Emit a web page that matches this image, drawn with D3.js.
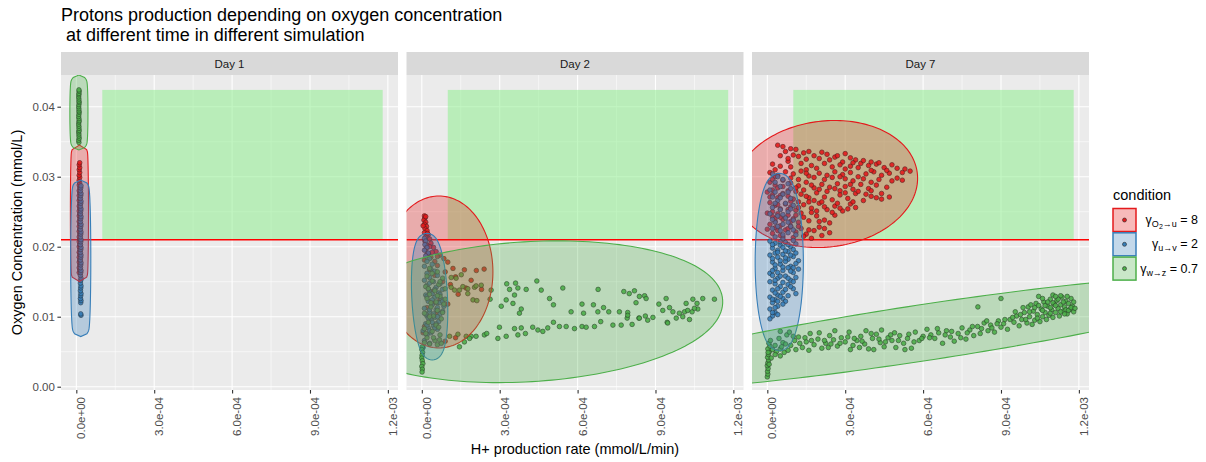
<!DOCTYPE html>
<html>
<head>
<meta charset="utf-8">
<script src="https://cdn.jsdelivr.net/npm/d3@7"></script>
<style>
  body { margin: 0; background: #fff; }
  svg { font-family: "Liberation Sans", Arial, Helvetica, sans-serif; }
  svg text { white-space: pre; }
</style>
</head>
<body>
<div id="chart"></div>
<script>
// Protons production vs oxygen concentration, three facets (days).

// ---------- Data ----------
// Point values are read off the picture.
// x is in units of 1e-4 mmol/L/min, y in units of 1e-3 mmol/L.
const X_UNIT = 1e-4;
const Y_UNIT = 1e-3;

const days = ["Day 1", "Day 2", "Day 7"];
const conditionNames = ["O2->u = 8", "u->v = 2", "w->z = 0.7"];

const xTicks = [0, 3e-4, 6e-4, 9e-4, 1.2e-3];
const xTickLabels = ["0.0e+00", "3.0e-04", "6.0e-04", "9.0e-04", "1.2e-03"];
const yTicks = [0, 0.01, 0.02, 0.03, 0.04];
const yTickLabels = ["0.00", "0.01", "0.02", "0.03", "0.04"];

const oxygenThreshold = 0.021;
const targetZoneX = [1.0e-4, 1.18e-3];
const targetZoneY = [0.021, 0.0424];

// Day 1
const day1Red = [[0.11,16.3],[0.13,16.7],[0.11,17.0],[0.13,17.4],[0.11,17.8],[0.13,18.1],[0.11,18.5],[0.13,18.9],[0.11,19.2],[0.13,19.6],[0.11,20.0],[0.13,20.3],[0.11,20.7],[0.13,21.1],[0.11,21.4],[0.13,21.8],[0.11,22.2],[0.13,22.5],[0.11,22.9],[0.13,23.3],[0.11,23.6],[0.13,24.0],[0.11,24.4],[0.13,24.7],[0.11,25.1],[0.13,25.5],[0.11,25.8],[0.13,26.2],[0.11,26.6],[0.13,26.9],[0.11,27.3],[0.13,27.7],[0.11,28.0],[0.13,28.4],[0.11,28.8],[0.13,29.1],[0.11,29.5],[0.13,29.9],[0.11,30.2],[0.13,30.6],[0.11,31.0],[0.13,31.3],[0.11,31.7],[0.13,32.0]];
const day1Blue = [[0.18,10.2],[0.17,10.4],[0.17,12.0],[0.18,12.3],[0.16,12.6],[0.17,13.0],[0.18,13.3],[0.16,13.7],[0.17,14.1],[0.18,14.4],[0.16,14.8],[0.17,15.2],[0.18,15.5],[0.16,15.9],[0.17,16.3],[0.18,16.6],[0.16,17.0],[0.17,17.4],[0.18,17.7],[0.16,18.1],[0.17,18.5],[0.18,18.8],[0.16,19.2],[0.17,19.6],[0.18,19.9],[0.16,20.3],[0.17,20.7],[0.18,21.0],[0.16,21.4],[0.17,21.8],[0.18,22.1],[0.16,22.5],[0.17,22.9],[0.18,23.2],[0.16,23.6],[0.17,24.0],[0.18,24.3],[0.16,24.7],[0.17,25.1],[0.18,25.4],[0.16,25.8],[0.17,26.2],[0.18,26.5],[0.16,26.9],[0.17,27.3],[0.18,27.6],[0.16,28.0],[0.17,28.4],[0.18,28.7]];
const day1Green = [[0.10,34.9],[0.09,35.2],[0.11,35.5],[0.10,35.8],[0.10,36.1],[0.09,36.4],[0.11,36.6],[0.10,36.9],[0.10,37.2],[0.09,37.5],[0.10,37.8],[0.11,38.0],[0.10,38.3],[0.09,38.6],[0.10,38.9],[0.11,39.2],[0.10,39.4],[0.10,39.7],[0.09,40.0],[0.10,40.3],[0.11,40.6],[0.10,40.8],[0.10,41.1],[0.09,41.4],[0.10,41.7],[0.10,41.9],[0.11,42.2],[0.10,42.4]];

// Day 2
const day2Red = [[0.10,24.4],[0.12,24.1],[0.08,23.8],[0.15,23.5],[0.10,23.2],[0.18,22.9],[0.12,22.6],[0.20,22.3],[0.10,22.0],[0.25,21.7],[0.15,21.4],[0.30,21.1],[0.12,20.8],[0.35,20.5],[0.20,20.2],[0.45,19.9],[0.15,19.6],[0.55,19.3],[0.25,19.0],[0.70,18.8],[0.35,18.5],[0.85,18.3],[0.10,18.1],[0.50,17.9],[1.00,17.8],[0.6,17.3],[1.2,16.9],[0.3,16.7],[1.64,16.7],[0.9,16.4],[2.1,16.6],[0.5,15.9],[1.3,15.7],[2.4,16.8],[1.9,15.2],[0.8,15.0],[1.1,14.6],[1.7,14.1],[2.3,13.9],[0.4,13.6],[1.4,13.2],[0.7,12.5],[1.0,11.8],[0.2,11.3],[0.6,10.6],[0.1,8.6],[0.05,7.7],[1.3,7.0],[0.9,6.5],[0.3,9.4],[0.45,12.0],
  [0.15,24.3],[0.05,23.0],[0.22,21.9],[0.30,20.0],[0.40,19.2],[0.60,18.6],[0.20,18.9]];
const day2Blue = [[0.10,21.2],[0.15,20.8],[0.12,20.3],[0.20,19.9],[0.10,19.5],[0.25,19.1],[0.15,18.7],[0.30,18.3],[0.20,17.9],[0.40,17.5],[0.10,17.2],[0.35,16.8],[0.50,16.5],[0.20,16.2],[0.60,15.9],[0.30,15.6],[0.10,15.2],[0.45,15.0],[0.70,14.7],[0.20,14.5],[0.55,14.2],[0.80,13.9],[0.30,13.6],[0.65,13.4],[0.15,13.1],[0.50,12.8],[0.75,12.5],[0.25,12.2],[0.60,12.0],[0.40,11.7],[0.85,11.5],[0.10,11.2],[0.55,11.0],[0.30,10.7],[0.70,10.4],[0.20,10.1],[0.50,9.9],[0.35,9.6],[0.65,9.3],[0.15,9.0],[0.45,8.7],[0.25,8.4],[0.60,8.2],[0.05,8.0],[0.35,7.7],[0.20,7.4],[0.10,6.6],[0.30,6.2],[0.05,5.6],[0.40,13.3],[0.70,12.0],[0.15,10.4],[0.55,9.0],[0.80,10.8],[0.25,14.0],
  [0.30,14.8],[0.50,13.9],[0.20,12.9],[0.70,13.2],[0.40,12.4],[0.60,11.3],[0.30,11.0],[0.80,12.2],[0.45,10.4],[0.25,9.8],[0.60,10.0],[0.40,9.2],[0.20,8.8],[0.50,8.4],[0.30,8.0]];
const day2Green = [
  // stack at x = 0
  [0.02,5.7],[0.00,5.3],[0.03,4.9],[0.01,4.5],[0.00,4.1],[0.02,3.7],[0.04,3.3],[0.00,2.9],[0.02,2.5],[0.01,2.1],
  // column near x = 0
  [0.3,16.9],[0.6,16.4],[0.2,15.8],[0.8,15.5],[0.4,15.1],[0.65,14.6],[0.15,14.3],[0.9,14.0],[0.5,13.7],[0.3,13.2],[0.7,12.9],[0.2,12.6],[0.55,12.1],[0.85,11.8],[0.35,11.4],[0.6,10.9],[0.1,10.5],[0.45,10.1],[0.75,9.7],[0.25,9.2],[0.55,8.8],[0.1,8.3],[0.4,7.9],[0.7,7.4],[0.2,7.0],[0.5,6.6],[0.3,6.1],
  [0.4,16.2],[0.7,15.0],[0.25,14.0],[0.6,13.0],[0.9,12.5],[0.35,12.0],[0.8,10.6],[0.3,10.0],[0.65,8.5],[0.15,7.6],[0.45,7.0],[0.1,6.3],[0.6,6.0],
  // near the column
  [1.13,15.6],[1.32,15.5],[1.52,16.0],[1.13,14.2],[1.26,13.8],[1.45,13.8],[1.58,14.3],[1.77,14.0],[1.77,13.3],[2.03,14.2],[2.09,14.4],[2.29,14.5],[1.97,12.4],[2.12,12.3],[1.07,7.2],[1.39,7.5],[1.71,7.2],[1.90,7.2],[0.75,6.2],[0.68,6.7],
  // lower band
  [1.45,5.7],[1.64,6.4],[1.84,6.9],[2.09,7.2],[2.41,7.4],[2.50,7.6],[2.93,6.9],[2.99,8.5],[3.25,7.2],[3.57,8.3],[3.70,7.4],[3.83,8.4],[3.99,7.6],[4.27,8.5],[4.47,8.1],[4.66,7.9],[4.85,8.4],[5.07,9.2],[5.30,8.6],[5.56,8.6],[5.88,8.3],[6.17,8.6],[6.33,8.5],[6.65,8.6],[6.89,9.3],[7.36,8.8],[7.68,8.8],[7.91,9.8],[8.10,8.9],[8.36,9.8],[8.61,10.1],[8.70,9.5],[8.90,9.9],[9.45,9.2],[9.80,9.8],[10.05,10.0],[10.31,9.6],[10.41,10.7],[10.63,11.1],
  // upper scatter
  [3.27,14.7],[3.61,14.8],[3.38,13.9],[4.43,15.1],[3.70,14.1],[4.02,13.9],[4.60,13.8],[5.43,14.1],[6.79,13.9],[7.78,13.6],[7.99,13.3],[8.19,13.7],[8.38,12.9],[8.58,13.0],[8.64,12.6],[9.41,12.6],[10.18,11.9],[10.44,12.5],[10.82,12.6],[11.27,12.5],[2.67,13.8],[2.63,12.5],[3.06,11.5],[3.25,12.4],[3.51,11.9],[3.57,13.1],[3.83,11.1],[3.76,10.5],[4.92,12.6],[5.07,11.7],[5.75,10.7],[6.17,11.8],[6.23,10.5],[6.61,11.7],[6.78,10.7],[7.00,11.3],[7.20,10.7],[7.61,10.7],[7.93,10.6],[8.25,12.0],[9.13,11.8],[9.28,10.9],[9.54,11.3],[9.67,10.7],[9.92,10.5],[10.12,10.7],[10.24,10.9],[10.50,11.2],[10.60,11.9],[9.47,9.1],[8.38,9.8],[7.93,10.2]
];

// Day 7
const day7Red = [
  [0.4,34.5],[0.6,34.3],[0.9,34.0],[0.7,33.6],[1.1,33.9],[1.4,33.4],[1.0,33.1],[1.8,33.0],[2.3,33.2],[2.6,32.8],[2.0,32.6],[3.0,33.3],[3.4,32.4],[1.5,32.5],[1.2,32.9],[2.9,32.1],
  [0.2,31.8],[0.5,31.5],[0.8,32.2],[1.3,31.9],[1.7,31.6],[2.2,31.9],[2.5,31.4],[2.8,31.7],[3.2,31.5],[3.6,31.9],[3.9,31.6],[4.2,31.8],[4.5,31.3],[4.8,31.7],[5.0,31.2],[5.3,31.1],[5.5,30.8],[4.0,32.1],[3.3,32.0],[1.9,31.2],[0.3,31.0],
  [0.1,30.6],[0.4,30.2],[0.7,30.7],[1.0,30.4],[1.3,30.8],[1.6,30.1],[2.0,30.5],[2.3,30.2],[2.6,30.7],[2.9,30.3],[3.2,30.6],[3.5,30.0],[3.8,30.4],[4.1,30.7],[4.4,30.2],[4.7,30.5],[5.0,29.8],[4.3,29.6],[3.0,29.7],[1.2,29.6],[0.6,29.5],[2.2,29.6],
  [0.1,29.2],[0.3,28.8],[0.6,28.6],[0.9,29.1],[1.2,28.7],[1.5,29.2],[1.8,28.4],[2.1,28.9],[2.4,28.5],[2.7,29.0],[3.0,28.6],[3.3,28.2],[3.6,28.9],[3.9,28.3],[4.2,28.8],[4.6,28.5],[5.2,29.5],[0.2,28.1],[1.4,28.1],[2.8,28.0],
  [0.0,27.8],[0.2,27.4],[0.4,27.0],[0.6,27.6],[0.8,27.2],[1.0,26.8],[1.3,27.5],[1.6,27.0],[1.9,27.7],[2.2,27.1],[2.5,26.7],[2.8,27.4],[3.1,26.9],[3.4,27.6],[3.7,26.6],[4.0,27.2],[4.4,26.8],[4.7,27.1],[1.1,27.9],[2.3,27.9],
  [0.1,26.3],[0.3,25.9],[0.5,25.4],[0.7,26.1],[0.9,25.7],[1.1,25.2],[1.4,26.0],[1.7,25.5],[2.0,26.2],[2.3,25.3],[2.6,25.8],[2.9,25.1],[3.2,26.1],[3.4,25.6],[0.2,25.0],[1.6,26.4],
  [0.0,24.8],[0.2,24.3],[0.4,24.7],[0.6,23.9],[0.8,24.5],[1.0,24.0],[1.3,24.8],[1.6,23.7],[1.9,24.4],[2.2,23.8],[2.6,24.5],[0.3,23.6],[1.2,23.5],
  [0.1,23.2],[0.3,22.7],[0.5,23.0],[0.7,22.4],[0.9,22.9],[1.1,22.1],[1.3,22.6],[1.5,21.8],[1.8,22.3],[2.1,21.6],[2.4,22.0],[0.2,21.9],[0.6,21.4],[1.0,21.3],[1.7,21.2],
  [0.5,33.0],[0.8,32.6],[1.6,33.6],[2.1,33.5],[2.7,33.0],[3.2,32.7],[3.7,32.3],[4.3,32.0],[0.9,31.4],[1.5,31.0],[2.4,32.4],[3.0,31.1],[3.5,31.3],[4.0,30.9],[4.6,30.9],[5.2,30.6],[0.3,30.0],[0.9,29.8],[1.5,30.5],[1.8,29.9],[2.5,29.9],[2.8,30.0],[3.3,29.4],[3.7,29.7],[4.0,29.2],[4.8,29.4],
  [0.4,28.4],[0.8,28.0],[1.1,28.4],[1.7,28.8],[2.0,28.2],[2.6,28.3],[3.2,28.9],[3.5,27.9],[4.0,28.0],[4.4,27.6],[0.5,27.3],[0.9,26.5],[1.2,26.4],[1.5,27.2],[1.8,26.6],[2.1,26.4],[2.7,26.2],[3.0,27.7],[3.3,26.4],[3.8,27.5],[4.2,27.0],
  [0.4,26.0],[0.8,25.3],[1.2,25.6],[1.9,25.1],[2.2,25.7],[2.5,24.9],[2.8,25.5],[3.1,25.4],[0.5,24.2],[0.9,23.6],[1.1,24.5],[1.4,24.2],[1.7,24.9],[2.0,23.6],[2.4,23.4],[0.4,22.3],[0.8,22.6],[1.2,22.9],[1.6,22.4],[2.0,22.8],[0.5,21.6],[1.4,21.5],[2.2,22.6],[0.2,29.6],[0.1,27.1],[0.3,24.0],[0.0,22.5]
];
const day7Blue = [
  [0.2,30.4],[0.4,30.0],[0.6,29.6],[0.3,29.2],[0.8,29.0],[0.5,28.6],[0.9,28.3],[0.1,28.1],
  [0.3,27.8],[0.6,27.5],[0.2,27.1],[0.9,26.9],[0.4,26.6],[0.7,26.2],[1.0,25.9],[0.2,25.6],[0.5,25.3],[0.8,25.0],
  [0.1,24.7],[0.4,24.4],[0.7,24.1],[1.0,23.8],[0.3,23.5],[0.6,23.2],[0.9,22.9],[0.2,22.6],[0.5,22.3],[0.8,22.0],[1.1,21.7],[0.3,21.4],[0.6,21.1],
  [0.1,20.8],[0.3,20.5],[0.5,20.2],[0.7,20.6],[0.9,20.0],[1.1,20.4],[0.2,19.8],[0.4,19.5],[0.6,19.9],[0.8,19.3],[1.0,19.6],[0.3,19.1],
  [0.1,18.8],[0.4,18.5],[0.6,18.9],[0.8,18.2],[1.0,18.6],[1.2,18.0],[0.2,17.8],[0.5,17.5],[0.7,17.9],[0.9,17.2],[1.1,17.6],[0.3,16.9],[0.6,16.6],[0.8,17.0],[1.0,16.3],[0.1,16.2],
  [0.2,15.9],[0.4,15.5],[0.7,15.8],[0.9,15.2],[1.1,15.6],[0.1,15.0],[0.3,14.7],[0.5,14.3],[0.8,14.6],[1.0,14.0],[0.2,13.8],[0.6,13.5],[0.4,13.1],[1.1,13.3],
  [0.1,12.8],[0.3,12.4],[0.6,12.6],[0.2,12.0],[0.4,11.5],[0.1,11.1],[0.3,10.6],[0.2,10.1],[0.1,9.7],[0.5,12.9],[0.7,12.2],
  [0.2,20.3],[0.5,20.7],[0.8,20.3],[1.0,20.9],[0.4,19.2],[0.7,19.4],[0.9,18.8],[1.1,19.1],[0.2,18.3],[0.5,18.0],[0.7,18.4],[0.3,17.4],[0.6,17.1],[1.0,17.0],[0.2,16.6],[0.4,16.3],[0.9,16.5],[1.2,16.8],[0.5,15.8],[0.8,15.5],[1.0,15.0],[0.3,15.2],[0.6,14.9],[0.9,14.3],[0.4,14.0],[0.7,13.9],[0.3,13.4],[0.8,13.0],[0.2,12.5],[0.4,12.2],[0.6,11.8],[0.3,11.3],[0.2,10.6],[0.4,10.3],
  [0.5,27.0],[0.8,27.8],[0.3,26.2],[0.9,25.4],[0.6,24.6],[0.2,23.9],[0.8,23.5],[0.4,22.9],[1.0,22.4],[0.6,21.7]
];
const day7Green = [
  [0.00,1.4],[0.02,1.8],[0.01,2.2],[0.03,2.6],[0.00,3.0],[0.02,3.4],[0.05,3.8],[0.01,4.2],[0.04,4.6],[0.08,5.0],[0.02,5.4],[0.10,5.8],[0.06,6.2],[0.12,6.6],[0.03,4.9],[0.07,3.2],
  [0.2,5.3],[0.35,5.0],[0.5,5.4],[0.65,4.9],[0.8,5.2],[0.3,4.6],[0.5,4.4],[0.15,4.1],
  [0.45,6.9],[0.6,6.3],[0.75,7.4],[0.9,5.9],[1.05,6.6],[1.2,7.1],[1.35,5.6],[1.5,6.4],[1.65,7.6],[1.8,6.0],[1.95,6.8],
  [2.1,5.5],[2.25,6.2],[2.4,7.3],[2.55,6.7],[2.7,5.8],[2.85,7.0],[3.0,6.4],[3.15,7.8],[3.3,5.9],[3.45,6.6],[3.6,7.2],[3.75,6.1],[3.9,5.4],[4.05,6.9],
  [4.2,7.5],[4.35,6.3],[4.5,5.7],[4.65,7.0],[4.8,6.6],[4.95,5.6],[5.1,7.3],[5.25,6.2],[5.4,6.9],[5.55,5.5],[5.7,7.8],[5.85,6.6],[6.0,7.2],
  [0.5,7.9],[1.1,5.3],[1.6,5.2],[2.0,7.7],[2.6,8.0],[3.2,5.3],[3.8,8.0],[4.4,8.1],[4.9,7.7],[5.3,5.3],[0.85,7.8],[2.35,5.6],[3.55,5.6],[4.1,5.3],
  [6.15,8.2],[6.3,7.4],[6.45,6.9],[6.6,7.7],[6.75,6.2],[6.9,8.0],[7.05,7.1],[7.2,6.5],[7.35,7.6],[7.5,8.4],[7.65,6.8],[7.8,8.1],[7.95,7.3],
  [8.1,8.6],[8.2,7.6],[8.35,9.1],[8.5,8.0],[8.6,8.8],[8.75,7.8],[8.9,9.4],[9.0,8.5],[9.1,9.0],[9.25,8.2],[9.35,9.6],[8.11,11.4],[9.0,12.6],
  [9.5,9.2],[9.6,10.1],[9.7,8.7],[9.8,9.6],[9.9,10.6],[10.0,9.1],[10.05,11.4],[10.1,10.0],[10.2,8.9],[10.25,10.8],[10.3,9.5],[10.35,11.9],[10.4,10.3],[10.5,9.3],[10.55,11.1],[10.6,10.0],[10.65,12.1],[10.7,10.6],[10.75,9.6],[10.8,11.5],[10.85,10.2],[10.9,12.5],[10.95,11.0],[11.0,9.9],[11.05,11.8],[11.1,10.6],[11.15,12.3],[11.2,11.2],[11.25,10.1],[11.3,11.7],[11.35,12.8],[11.4,10.8],[11.45,11.4],[11.5,12.2],[11.55,10.4],[11.6,11.9],[11.65,11.0],[11.7,12.6],[11.75,11.5],[11.8,10.7],[10.45,12.9],[11.0,13.1],[11.3,13.0],[10.15,11.7],[9.85,11.3],
  [0.3,5.9],[0.55,5.7],[0.7,6.1],[1.0,7.2],[1.25,6.2],[1.45,7.0],[1.7,6.6],[2.2,6.6],[2.45,6.1],[2.8,6.2],[3.1,7.1],[3.35,6.9],[3.65,6.5],[4.0,7.6],[4.3,6.8],[4.55,6.4],[4.75,7.4],[5.05,6.6],[5.45,7.5],[5.65,6.4],[5.95,6.9],[6.25,7.0],[6.55,8.3],[6.85,7.4],[7.1,7.9],[7.45,7.0],[7.7,7.7],[7.9,8.6],[8.25,8.3],[8.45,9.4],[8.65,8.4],[8.85,9.0],[9.15,9.6],[9.45,9.9],
  [9.55,10.7],[9.75,10.3],[9.95,9.6],[10.1,10.7],[10.3,11.3],[10.45,11.6],[10.6,10.9],[10.7,11.6],[10.8,12.1],[10.9,11.3],[11.0,12.0],[11.1,11.6],[11.2,12.5],[11.3,10.7],[11.4,12.1],[11.5,11.0],[11.55,12.9],[11.6,10.9],[11.7,11.3],[11.8,12.1],[11.85,11.2],[11.1,12.9],[10.4,9.8],[10.9,10.5],[11.45,10.4],[10.6,12.6]
];

// Enclosing ellipses: [cx, cy, ax, ay, bx, by] (centre and two semi-axis vectors, same units as points)
const day1Marks = [[0.12,24.77,0.04,0,0,8.61],[0.17,18.34,0.08,0,0,10.04],[0.10,39.17,0.04,0,0,4.21]];
const day2Marks = [[0.66,16.39,1.77,0,0,9.71],[0.30,12.86,0.38,0,-0.1,7.9],[4.09,10.71,7.19,1.59,0.14,-8.84]];
const day7Marks = [[2.26,28.96,3.21,1.44,0.254,-7.8],[0.46,17.81,0.62,0,0,11.53],[5.92,7.67,11.12,6.27,0.116,-2.83]];

// ---------- Setup ----------
const width = 1206, height = 462;
const colors = ["#E41A1C", "#377EB8", "#4DAF4A"];
const panelTop = 75, panelBottom = 390, stripTop = 52;
const panelWidth = 337, panelGap = 8.5, firstLeft = 61;
const expandPx = 8;

const pointsByDay = [
  [day1Red, day1Blue, day1Green],
  [day2Red, day2Blue, day2Green],
  [day7Red, day7Blue, day7Green]
];
const marksByDay = [day1Marks, day2Marks, day7Marks];

const svg = d3.select("#chart").append("svg")
  .attr("width", width).attr("height", height);

const y = d3.scaleLinear().domain([-0.00047, 0.04453]).range([panelBottom, panelTop]);

const mid = arr => arr.slice(1).map((v, i) => (v + arr[i]) / 2);
const xMinor = mid(xTicks);
const yMinor = mid(yTicks);

// Title (two lines)
svg.append("text").attr("x", 61).attr("y", 20.5).attr("font-size", 18).attr("fill", "#000")
  .text("Protons production depending on oxygen concentration");
svg.append("text").attr("x", 61).attr("y", 40.8).attr("font-size", 18).attr("fill", "#000")
  .text(" at different time in different simulation");

days.forEach((day, p) => {
  const left = firstLeft + p * (panelWidth + panelGap);
  const x = d3.scaleLinear().domain([-5.9e-5, 1.239e-3]).range([left, left + panelWidth]);
  const g = svg.append("g");

  g.append("rect").attr("x", left).attr("y", panelTop)
    .attr("width", panelWidth).attr("height", panelBottom - panelTop).attr("fill", "#EBEBEB");

  // grid
  g.selectAll(".xminor").data(xMinor).join("line")
    .attr("x1", d => x(d)).attr("x2", d => x(d)).attr("y1", panelTop).attr("y2", panelBottom)
    .attr("stroke", "#fff").attr("stroke-width", 0.55);
  g.selectAll(".yminor").data(yMinor).join("line")
    .attr("x1", left).attr("x2", left + panelWidth).attr("y1", d => y(d)).attr("y2", d => y(d))
    .attr("stroke", "#fff").attr("stroke-width", 0.55);
  g.selectAll(".xmajor").data(xTicks).join("line")
    .attr("x1", d => x(d)).attr("x2", d => x(d)).attr("y1", panelTop).attr("y2", panelBottom)
    .attr("stroke", "#fff").attr("stroke-width", 1.1);
  g.selectAll(".ymajor").data(yTicks).join("line")
    .attr("x1", left).attr("x2", left + panelWidth).attr("y1", d => y(d)).attr("y2", d => y(d))
    .attr("stroke", "#fff").attr("stroke-width", 1.1);

  const clipId = "clip" + p;
  svg.append("clipPath").attr("id", clipId).append("rect")
    .attr("x", left).attr("y", panelTop).attr("width", panelWidth).attr("height", panelBottom - panelTop);
  const inner = g.append("g").attr("clip-path", `url(#${clipId})`);

  // target zone
  inner.append("rect")
    .attr("x", x(targetZoneX[0])).attr("y", y(targetZoneY[1]))
    .attr("width", x(targetZoneX[1]) - x(targetZoneX[0]))
    .attr("height", y(targetZoneY[0]) - y(targetZoneY[1]))
    .attr("fill", "#90EE90").attr("fill-opacity", 0.55);

  inner.append("line")
    .attr("x1", left).attr("x2", left + panelWidth)
    .attr("y1", y(oxygenThreshold)).attr("y2", y(oxygenThreshold))
    .attr("stroke", "#FF0000").attr("stroke-width", 1.5);

  // points
  pointsByDay[p].forEach((pts, c) => {
    inner.append("g").selectAll("circle").data(pts).join("circle")
      .attr("cx", d => x(d[0] * X_UNIT)).attr("cy", d => y(d[1] * Y_UNIT)).attr("r", 2.3)
      .attr("fill", colors[c]).attr("stroke", "#1f1f1f").attr("stroke-width", 0.7)
      .attr("opacity", 0.9);
  });

  // enclosing ellipses, expanded by a fixed margin in pixels
  marksByDay[p].forEach((m, c) => {
    const [cx, cy, ax, ay, bx, by] = m;
    const C = [x(cx * X_UNIT), y(cy * Y_UNIT)];
    const A = [x((cx + ax) * X_UNIT) - C[0], y((cy + ay) * Y_UNIT) - C[1]];
    const B = [x((cx + bx) * X_UNIT) - C[0], y((cy + by) * Y_UNIT) - C[1]];
    const pts = d3.range(0, 180).map(i => {
      const t = i / 180 * 2 * Math.PI;
      const px = C[0] + A[0] * Math.cos(t) + B[0] * Math.sin(t);
      const py = C[1] + A[1] * Math.cos(t) + B[1] * Math.sin(t);
      const tx = -A[0] * Math.sin(t) + B[0] * Math.cos(t);
      const ty = -A[1] * Math.sin(t) + B[1] * Math.cos(t);
      let nx = ty, ny = -tx;
      const len = Math.hypot(nx, ny) || 1;
      nx /= len; ny /= len;
      if (nx * (px - C[0]) + ny * (py - C[1]) < 0) { nx = -nx; ny = -ny; }
      return [px + nx * expandPx, py + ny * expandPx];
    });
    inner.append("path")
      .attr("d", d3.line().curve(d3.curveLinearClosed)(pts))
      .attr("fill", colors[c]).attr("fill-opacity", 0.3)
      .attr("stroke", colors[c]).attr("stroke-width", 1.1);
  });

  // strip
  g.append("rect").attr("x", left).attr("y", stripTop)
    .attr("width", panelWidth).attr("height", panelTop - stripTop).attr("fill", "#D9D9D9");
  g.append("text").attr("x", left + panelWidth / 2).attr("y", (stripTop + panelTop) / 2)
    .attr("dy", "0.35em").attr("text-anchor", "middle").attr("font-size", 11.5)
    .attr("fill", "#1A1A1A").text(day);

  // x axis
  const xAxis = g.append("g").attr("transform", `translate(0,${panelBottom})`)
    .call(d3.axisBottom(x).tickValues(xTicks).tickFormat((d, i) => xTickLabels[i])
      .tickSize(3.6).tickSizeOuter(0));
  xAxis.select(".domain").remove();
  xAxis.selectAll("line").attr("stroke", "#333333").attr("stroke-width", 1.1);
  xAxis.selectAll("text")
    .attr("transform", "rotate(-90)")
    .attr("x", -7).attr("y", 0).attr("dy", "0.74em")
    .attr("text-anchor", "end").attr("font-size", 11.5).attr("fill", "#4D4D4D")
    .attr("font-family", "Liberation Sans, Arial, sans-serif");

  if (p === 0) {
    const yAxis = g.append("g").attr("transform", `translate(${left},0)`)
      .call(d3.axisLeft(y).tickValues(yTicks).tickFormat((d, i) => yTickLabels[i])
        .tickSize(3.6).tickPadding(2.5).tickSizeOuter(0));
    yAxis.select(".domain").remove();
    yAxis.selectAll("line").attr("stroke", "#333333").attr("stroke-width", 1.1);
    yAxis.selectAll("text").attr("font-size", 11.5).attr("fill", "#4D4D4D")
      .attr("font-family", "Liberation Sans, Arial, sans-serif");
  }
});

// axis titles
svg.append("text")
  .attr("transform", `translate(22,${(panelTop + panelBottom) / 2}) rotate(-90)`)
  .attr("text-anchor", "middle").attr("font-size", 14.5).attr("fill", "#000")
  .text("Oxygen Concentration (mmol/L)");
svg.append("text")
  .attr("x", firstLeft + (3 * panelWidth + 2 * panelGap) / 2).attr("y", 454)
  .attr("text-anchor", "middle").attr("font-size", 14.5).attr("fill", "#000")
  .text("H+ production rate (mmol/L/min)");

// ---------- Legend ----------
const legend = svg.append("g");
legend.append("text").attr("x", 1113).attr("y", 200).attr("font-size", 14.5).attr("fill", "#000")
  .text("condition");

// plotmath-like labels: [text, level] where level 1 = subscript, 2 = sub-subscript
const legendLabels = [
  [["γ", 0], ["O", 1], ["2", 2], ["→u", 1], [" = 8", 0]],
  [["γ", 0], ["u→v", 1], [" = 2", 0]],
  [["γ", 0], ["w→z", 1], [" = 0.7", 0]]
];
const levelSize = [12.5, 9, 7];
const levelShift = [0, 3, 5];

conditionNames.forEach((name, i) => {
  const top = 208.5 + i * 24.3;
  legend.append("rect").attr("x", 1113).attr("y", top).attr("width", 23).attr("height", 23)
    .attr("fill", colors[i]).attr("fill-opacity", 0.3)
    .attr("stroke", colors[i]).attr("stroke-width", 1.5);
  legend.append("circle").attr("cx", 1124.5).attr("cy", top + 11.5).attr("r", 2)
    .attr("fill", colors[i]).attr("stroke", "#262626").attr("stroke-width", 0.6);
  const label = legend.append("text").attr("x", 1198).attr("y", top + 15.5)
    .attr("text-anchor", "end").attr("fill", "#000");
  let prev = 0;
  legendLabels[i].forEach(([txt, lvl]) => {
    label.append("tspan").attr("font-size", levelSize[lvl])
      .attr("dy", levelShift[lvl] - prev).text(txt);
    prev = levelShift[lvl];
  });
});
</script>
</body>
</html>
